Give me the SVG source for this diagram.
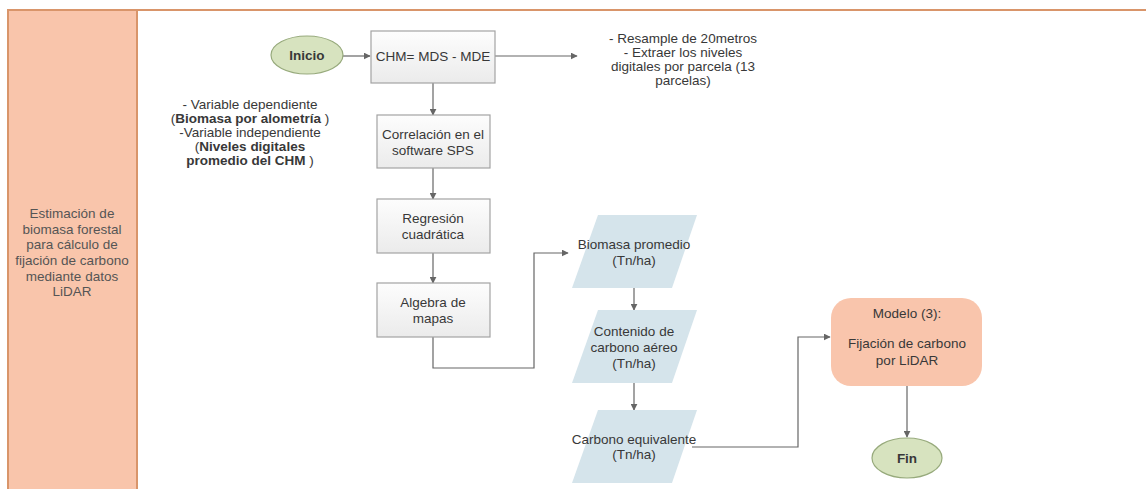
<svg xmlns="http://www.w3.org/2000/svg" width="1146" height="489" viewBox="0 0 1146 489">
<defs>
<linearGradient id="boxg" x1="0" y1="0" x2="0" y2="1">
<stop offset="0" stop-color="#fdfdfd"/>
<stop offset="1" stop-color="#ebebeb"/>
</linearGradient>
<marker id="arr" viewBox="0 0 10 10" refX="9" refY="5" markerWidth="7" markerHeight="7" markerUnits="userSpaceOnUse" orient="auto">
<path d="M0,0 L10,5 L0,10 z" fill="#666"/>
</marker>
</defs>
<style>
.t{font-family:"Liberation Sans",Arial,sans-serif;font-size:13.5px;fill:#383838;text-anchor:middle;dominant-baseline:central}
.lane{font-family:"Liberation Sans",Arial,sans-serif;font-size:13.5px;fill:#555;text-anchor:middle;dominant-baseline:central}
.b{font-weight:bold}
.box{fill:url(#boxg);stroke:#a3a3a3;stroke-width:1.2}
.para{fill:#d5e4eb}
.term{fill:#d7e3bf;stroke:#97aa7c;stroke-width:1.2}
.model{fill:#f9c5ac}
.c{fill:none;stroke:#666;stroke-width:1.2}
</style>
<rect x="0" y="0" width="1146" height="489" fill="#fff"/>
<g id="lane">
<rect x="8" y="10" width="1150" height="490" fill="#fff" stroke="#d9956a" stroke-width="2"/>
<rect x="8" y="10" width="129" height="490" fill="#f9c5ab" stroke="#d9956a" stroke-width="2"/>
<text class="lane"><tspan x="72" y="213">Estimación de</tspan><tspan x="72" y="229">biomasa forestal</tspan><tspan x="72" y="244">para cálculo de</tspan><tspan x="72" y="260">fijación de carbono</tspan><tspan x="72" y="276">mediante datos</tspan><tspan x="72" y="291">LiDAR</tspan></text>
</g>
<g id="connectors">
<path class="c" d="M342,56 L370,56" marker-end="url(#arr)"/>
<path class="c" d="M495,56 L577,56" marker-end="url(#arr)"/>
<path class="c" d="M433,83 L433,115" marker-end="url(#arr)"/>
<path class="c" d="M433,168 L433,199" marker-end="url(#arr)"/>
<path class="c" d="M433,253 L433,283" marker-end="url(#arr)"/>
<path class="c" d="M433,337 L433,368 L534,368 L534,253 L568,253" marker-end="url(#arr)"/>
<path class="c" d="M634,288 L634,310" marker-end="url(#arr)"/>
<path class="c" d="M634,383 L634,410" marker-end="url(#arr)"/>
<path class="c" d="M692,447 L798,447 L798,337 L830,337" marker-end="url(#arr)"/>
<path class="c" d="M907,386 L907,437" marker-end="url(#arr)"/>
</g>
<g id="inicio">
<ellipse class="term" cx="307" cy="55" rx="36" ry="19"/>
<text class="t b" x="307" y="55">Inicio</text>
</g>
<g id="chm">
<rect class="box" x="371" y="31" width="124" height="52"/>
<text class="t" x="433" y="56">CHM= MDS - MDE</text>
</g>
<g id="nota-resample">
<text class="t"><tspan x="683" y="38">- Resample de 20metros</tspan><tspan x="683" y="52">- Extraer los niveles</tspan><tspan x="683" y="66">digitales por parcela (13</tspan><tspan x="683" y="80">parcelas)</tspan></text>
</g>
<g id="nota-variables">
<text class="t"><tspan x="250" y="104">- Variable dependiente</tspan><tspan x="250" y="118">(<tspan class="b">Biomasa por alometría</tspan> )</tspan><tspan x="250" y="132">-Variable independiente</tspan><tspan x="250" y="146">(<tspan class="b">Niveles digitales</tspan></tspan><tspan x="250" y="160"><tspan class="b">promedio del CHM</tspan> )</tspan></text>
</g>
<g id="correlacion">
<rect class="box" x="377" y="115" width="113" height="53"/>
<text class="t"><tspan x="433" y="134">Correlación en el</tspan><tspan x="433" y="150">software SPS</tspan></text>
</g>
<g id="regresion">
<rect class="box" x="377" y="199" width="113" height="54"/>
<text class="t"><tspan x="433" y="218">Regresión</tspan><tspan x="433" y="234">cuadrática</tspan></text>
</g>
<g id="algebra">
<rect class="box" x="377" y="283" width="113" height="54"/>
<text class="t"><tspan x="433" y="302">Algebra de</tspan><tspan x="433" y="318">mapas</tspan></text>
</g>
<g id="biomasa">
<polygon class="para" points="598,215 697,215 672,288 572,288"/>
<text class="t"><tspan x="634" y="244">Biomasa promedio</tspan><tspan x="634" y="260">(Tn/ha)</tspan></text>
</g>
<g id="contenido">
<polygon class="para" points="598,310 697,310 672,383 572,383"/>
<text class="t"><tspan x="634" y="331">Contenido de</tspan><tspan x="634" y="347">carbono aéreo</tspan><tspan x="634" y="363">(Tn/ha)</tspan></text>
</g>
<g id="carbono">
<polygon class="para" points="598,410 697,410 672,483 572,483"/>
<text class="t"><tspan x="634" y="439">Carbono equivalente</tspan><tspan x="634" y="454">(Tn/ha)</tspan></text>
</g>
<g id="modelo">
<rect class="model" x="831" y="298" width="151" height="88" rx="20" ry="20"/>
<text class="t"><tspan x="907" y="313">Modelo (3):</tspan><tspan x="907" y="343">Fijación de carbono</tspan><tspan x="907" y="360">por LiDAR</tspan></text>
</g>
<g id="fin">
<ellipse class="term" cx="907" cy="458" rx="35" ry="20"/>
<text class="t b" x="907" y="458">Fin</text>
</g>
</svg>
